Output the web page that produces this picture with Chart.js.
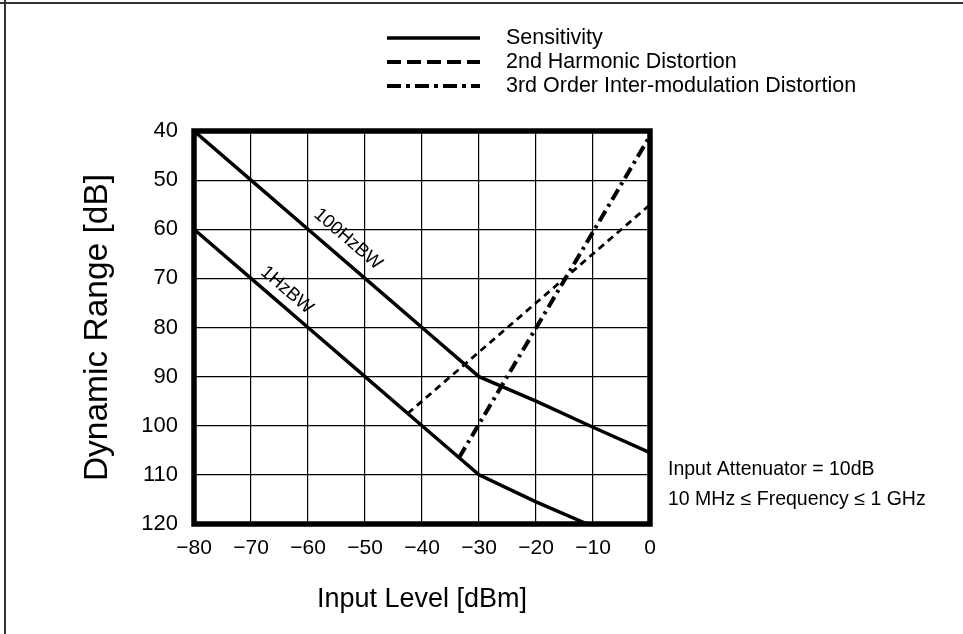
<!DOCTYPE html>
<html>
<head>
<meta charset="utf-8">
<title>Dynamic Range</title>
<script src="https://cdn.jsdelivr.net/npm/chart.js@4.4.1/dist/chart.umd.min.js"></script>
<style>
    html, body { margin: 0; padding: 0; background: #fff; }
    #grafico { display: block; }
</style>
</head>
<body>
<canvas id="grafico" width="963" height="634"></canvas>
<script>
// Datos (nivel de entrada en dBm, rango dinamico en dB)
const entradaSens100 = [-80, -70, -60, -50, -40, -30, -20, -10, 0];
const rangoSens100 = [40, 50, 60, 70, 80, 90, 95, 100.3, 105.5];

const entradaSens1 = [-80, -70, -60, -50, -40, -30, -20, -11];
const rangoSens1 = [60, 70, 80, 90, 100, 110, 115.5, 120];

const entradaArmonico2 = [-42.5, 0];
const rangoArmonico2 = [97.5, 55];

const entradaIntermod3 = [-33.5, 0];
const rangoIntermod3 = [106.5, 41];

const etiquetasLeyenda = ['Sensitivity', '2nd Harmonic Distortion', '3rd Order Inter-modulation Distortion'];
const etiquetasCurvas = ['100HzBW', '1HzBW'];
const notas = ['Input Attenuator = 10dB', '10 MHz \u2264 Frequency \u2264 1 GHz'];

const FUENTE = "'Liberation Sans', Arial, sans-serif";

function aPuntos(xs, ys) {
    return xs.map((x, i) => ({ x: x, y: ys[i] }));
}

// Marco fino de la pagina, marco grueso del area y textos sueltos
const pluginDecoracion = {
    id: 'decoracion',
    beforeDraw(chart) {
        const ctx = chart.ctx;
        ctx.save();
        ctx.fillStyle = '#fff';
        ctx.fillRect(0, 0, chart.width, chart.height);
        ctx.fillStyle = '#333';
        ctx.fillRect(0, 2, chart.width, 2);
        ctx.fillRect(4, 0, 2, chart.height);
        ctx.restore();
    },
    beforeDatasetsDraw(chart) {
        const { ctx, chartArea } = chart;
        ctx.save();
        ctx.strokeStyle = '#000';
        ctx.lineWidth = 5.5;
        ctx.strokeRect(chartArea.left, chartArea.top, chartArea.right - chartArea.left, chartArea.bottom - chartArea.top);
        ctx.restore();
    },
    afterDraw(chart) {
        const ctx = chart.ctx;
        const x = chart.scales.x;
        const y = chart.scales.y;
        ctx.save();
        ctx.fillStyle = '#000';

        // Leyenda
        const estilos = [
            { dash: [], ancho: 3.5 },
            { dash: [14, 6], ancho: 4 },
            { dash: [14, 5, 4, 5], ancho: 4 }
        ];
        ctx.font = '21.5px ' + FUENTE;
        ctx.textBaseline = 'middle';
        ctx.textAlign = 'left';
        etiquetasLeyenda.forEach((texto, i) => {
            const yy = 38 + i * 24;
            ctx.beginPath();
            ctx.setLineDash(estilos[i].dash);
            ctx.lineWidth = estilos[i].ancho;
            ctx.strokeStyle = '#000';
            ctx.moveTo(387, yy);
            ctx.lineTo(480, yy);
            ctx.stroke();
            ctx.fillText(texto, 506, yy);
        });
        ctx.setLineDash([]);

        // Etiquetas giradas sobre las curvas de sensibilidad
        const angulo = Math.atan2(y.getPixelForValue(70) - y.getPixelForValue(50),
                                  x.getPixelForValue(-50) - x.getPixelForValue(-70));
        ctx.font = '18.5px ' + FUENTE;
        ctx.textAlign = 'center';
        const posiciones = [[-53, 62], [-63.7, 72.4]];
        etiquetasCurvas.forEach((texto, i) => {
            ctx.save();
            ctx.translate(x.getPixelForValue(posiciones[i][0]), y.getPixelForValue(posiciones[i][1]));
            ctx.rotate(angulo);
            ctx.fillText(texto, 0, 0);
            ctx.restore();
        });

        // Notas a la derecha
        ctx.font = '19.5px ' + FUENTE;
        ctx.textAlign = 'left';
        notas.forEach((texto, i) => {
            ctx.fillText(texto, 668, 470 + i * 30);
        });
        ctx.restore();
    }
};

function crearGrafico() {
    const ctx = document.getElementById('grafico').getContext('2d');

    const datasets = [
        { label: 'Sensitivity 100HzBW', data: aPuntos(entradaSens100, rangoSens100), borderWidth: 3.5, borderDash: [] },
        { label: 'Sensitivity 1HzBW', data: aPuntos(entradaSens1, rangoSens1), borderWidth: 3.5, borderDash: [] },
        { label: etiquetasLeyenda[1], data: aPuntos(entradaArmonico2, rangoArmonico2), borderWidth: 2.8, borderDash: [7, 5] },
        { label: etiquetasLeyenda[2], data: aPuntos(entradaIntermod3, rangoIntermod3), borderWidth: 4, borderDash: [12, 5, 3, 5] }
    ].map(d => Object.assign(d, {
        showLine: true,
        borderColor: '#000',
        backgroundColor: '#000',
        pointRadius: 0,
        tension: 0,
        fill: false
    }));

    return new Chart(ctx, {
        type: 'scatter',
        data: { datasets: datasets },
        options: {
            responsive: false,
            animation: false,
            devicePixelRatio: 1,
            layout: { padding: { top: 131, right: 313, bottom: 0, left: 0 } },
            plugins: {
                legend: { display: false },
                tooltip: { enabled: false }
            },
            scales: {
                x: {
                    type: 'linear',
                    min: -80,
                    max: 0,
                    afterFit: s => { s.height = 110; },
                    grid: { color: '#000', lineWidth: 1.2, drawTicks: false },
                    border: { display: false },
                    ticks: {
                        stepSize: 10,
                        color: '#000',
                        padding: 12,
                        font: { family: FUENTE, size: 21 },
                        callback: v => v < 0 ? '\u2212' + Math.abs(v) : String(v)
                    },
                    title: {
                        display: true,
                        text: 'Input Level [dBm]',
                        color: '#000',
                        font: { family: FUENTE, size: 27 },
                        padding: { top: 0, bottom: 18 }
                    }
                },
                y: {
                    type: 'linear',
                    reverse: true,
                    min: 40,
                    max: 120,
                    afterFit: s => { s.width = 194; },
                    grid: { color: '#000', lineWidth: 1.2, drawTicks: false },
                    border: { display: false },
                    ticks: {
                        stepSize: 10,
                        color: '#000',
                        padding: 16,
                        font: { family: FUENTE, size: 22 }
                    },
                    title: {
                        display: true,
                        text: 'Dynamic Range [dB]',
                        color: '#000',
                        font: { family: FUENTE, size: 33.5 },
                        padding: { top: 78, bottom: 0 }
                    }
                }
            }
        },
        plugins: [pluginDecoracion]
    });
}

document.addEventListener('DOMContentLoaded', crearGrafico);
</script>
</body>
</html>
